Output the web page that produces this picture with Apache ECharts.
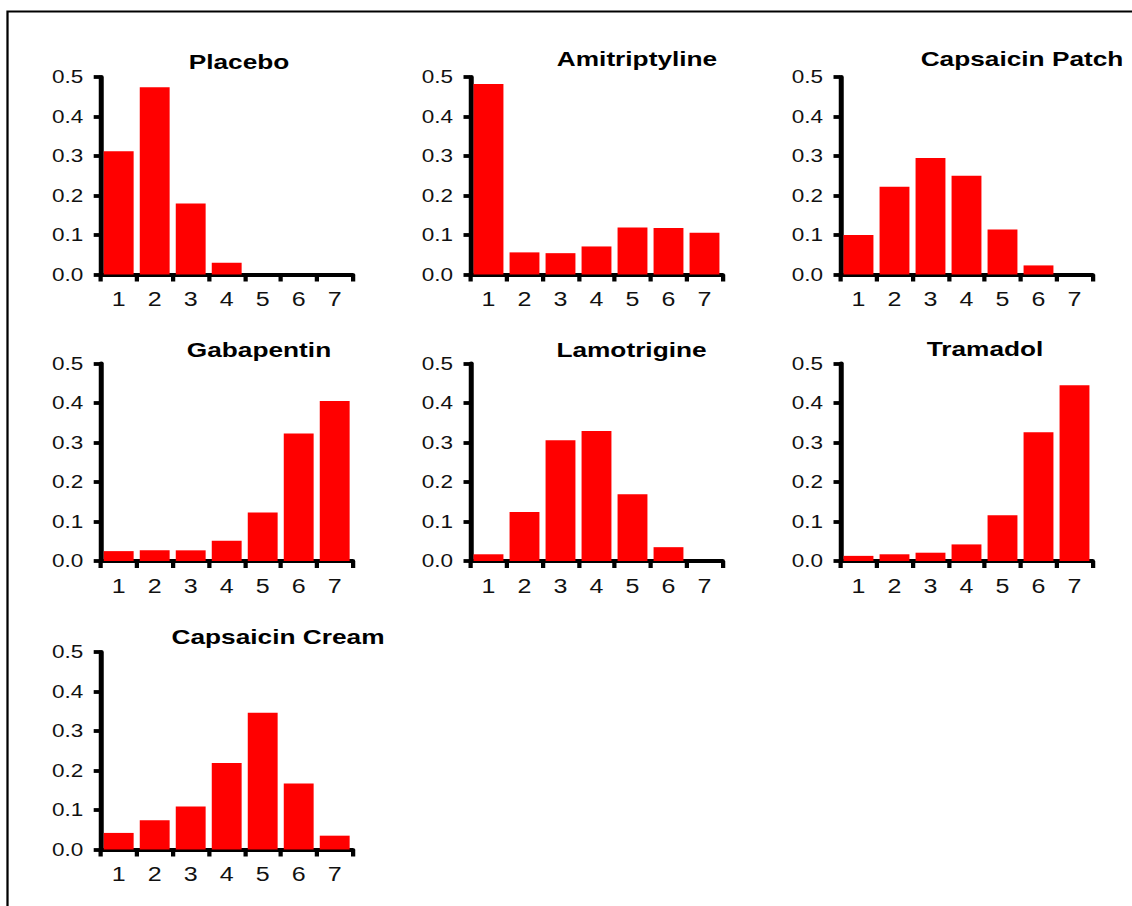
<!DOCTYPE html>
<html>
<head>
<meta charset="utf-8">
<title>Treatment response distributions</title>
<script src="https://cdn.jsdelivr.net/npm/echarts@6/dist/echarts.min.js"></script>
<style>
  html, body { margin: 0; padding: 0; background: #fff; overflow: hidden; }
  #chart { width: 905.6px; height: 906px; transform: scaleX(1.25); transform-origin: 0 0; }
</style>
</head>
<body>
<div id="chart"></div>
<script>
// Response categories on the x axis
const categories = ['1', '2', '3', '4', '5', '6', '7'];

// Proportion of patients in each category, per treatment
const placebo        = [0.312, 0.474, 0.180, 0.030, 0, 0, 0];
const amitriptyline  = [0.482, 0.056, 0.054, 0.071, 0.119, 0.118, 0.106];
const capsaicinPatch = [0.100, 0.222, 0.295, 0.250, 0.114, 0.023, 0];
const gabapentin     = [0.025, 0.027, 0.027, 0.051, 0.123, 0.323, 0.405];
const lamotrigine    = [0.017, 0.124, 0.306, 0.329, 0.169, 0.035, 0];
const tramadol       = [0.013, 0.017, 0.021, 0.042, 0.116, 0.326, 0.445];
const capsaicinCream = [0.042, 0.074, 0.109, 0.219, 0.346, 0.167, 0.035];

// Panel titles and their data, in reading order
const treatments = ['Placebo', 'Amitriptyline', 'Capsaicin Patch', 'Gabapentin', 'Lamotrigine', 'Tramadol', 'Capsaicin Cream'];
const seriesValues = [placebo, amitriptyline, capsaicinPatch, gabapentin, lamotrigine, tramadol, capsaicinCream];

// Y axis range and step
const yMin = 0, yMax = 0.5, yStep = 0.1;

// ---- layout (page pixels; the chart is drawn narrower and stretched by SX) ----
const SX = 1.25;
const colLeft = [100.7, 470.5, 840.5];
const rowTop = [77, 363.5, 652];
const plotW = 252, plotH = 197.5;
// title centre per panel: [x, y]
const titlePos = [[239, 61], [637, 58.5], [1022, 58.5], [259, 349], [631.5, 349], [985, 348.5], [278, 636]];

const FONT = '"Liberation Sans", Arial, Helvetica, sans-serif';

const grids = [], xAxes = [], yAxes = [], series = [], graphics = [];

treatments.forEach((name, i) => {
  const col = i % 3, row = Math.floor(i / 3);
  grids.push({
    left: colLeft[col] / SX,
    top: rowTop[row],
    width: plotW / SX,
    height: plotH
  });
  xAxes.push({
    type: 'category',
    gridIndex: i,
    data: categories,
    boundaryGap: true,
    axisLine: { show: true, lineStyle: { color: '#000', width: 4 } },
    axisTick: { show: true, inside: false, length: 7, alignWithLabel: false, lineStyle: { color: '#000', width: 3.4 } },
    axisLabel: { color: '#111', fontSize: 20, fontFamily: FONT, margin: 15 },
    splitLine: { show: false }
  });
  yAxes.push({
    type: 'value',
    gridIndex: i,
    min: yMin,
    max: yMax,
    interval: yStep,
    axisLine: { show: true, lineStyle: { color: '#000', width: 4 } },
    axisTick: { show: true, inside: false, length: 5.6, lineStyle: { color: '#000', width: 3.8 } },
    axisLabel: { color: '#111', fontSize: 18, fontFamily: FONT, margin: 14, formatter: v => v.toFixed(1) },
    splitLine: { show: false }
  });
  series.push({
    type: 'bar',
    name: name,
    xAxisIndex: i,
    yAxisIndex: i,
    data: seriesValues[i],
    barWidth: '83%',
    itemStyle: { color: '#ff0000' },
    silent: true
  });
  graphics.push({
    type: 'text',
    x: titlePos[i][0] / SX,
    y: titlePos[i][1],
    style: {
      text: name,
      fill: '#000',
      font: 'bold 21px ' + FONT,
      textAlign: 'center',
      textVerticalAlign: 'middle'
    }
  });
});

// frame around the figure (top and left edges fall inside the page)
graphics.unshift({
  type: 'rect',
  shape: { x: 7.5 / SX, y: 11.5, width: 2000, height: 2000 },
  style: { fill: 'none', stroke: '#000', lineWidth: 1.8 },
  silent: true
});

const chart = echarts.init(document.getElementById('chart'), null, { renderer: 'svg' });
chart.setOption({
  backgroundColor: '#fff',
  animation: false,
  grid: grids,
  xAxis: xAxes,
  yAxis: yAxes,
  series: series,
  graphic: graphics
});
</script>
</body>
</html>
